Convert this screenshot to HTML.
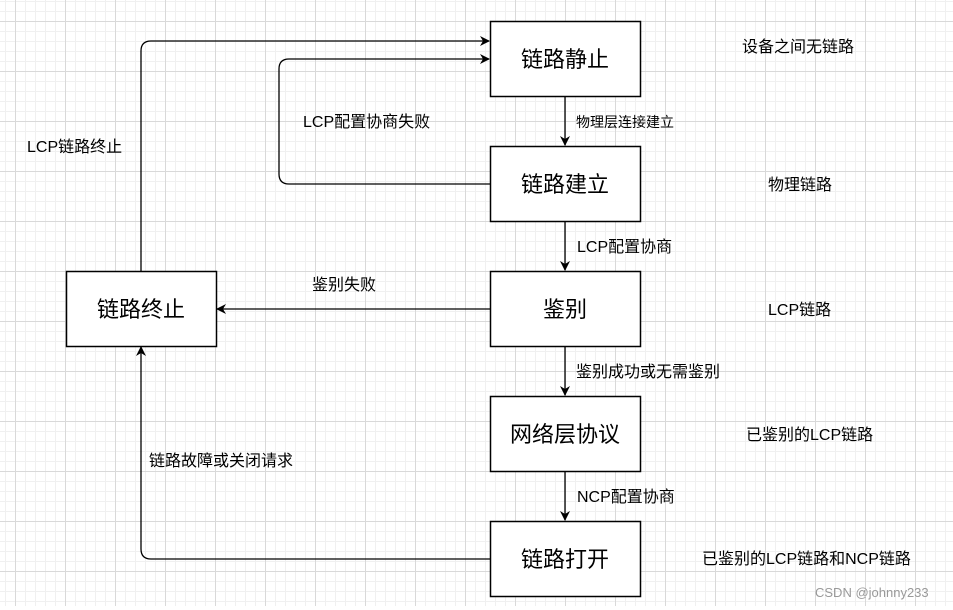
<!DOCTYPE html>
<html><head><meta charset="utf-8"><style>
body{margin:0;width:953px;height:610px;overflow:hidden;background:#fff;font-family:"Liberation Sans","Noto Sans CJK SC",sans-serif}
.g{position:absolute;left:0;top:0;width:953px;height:606px;
background-image:linear-gradient(#d9d9d9 1px,transparent 1px),linear-gradient(90deg,#d9d9d9 1px,transparent 1px),linear-gradient(#f0f0f0 1px,transparent 1px),linear-gradient(90deg,#f0f0f0 1px,transparent 1px);
background-size:50px 50px,50px 50px,10px 10px,10px 10px;background-position:0 21px,15px 0,0 1px,5px 0}
svg{position:absolute;left:0;top:0}
</style></head><body>
<div class="g"></div>
<svg width="953" height="610" font-family="Liberation Sans, Noto Sans CJK SC, sans-serif">
<defs><marker id="a" markerWidth="10" markerHeight="10" refX="9" refY="5" orient="auto" markerUnits="userSpaceOnUse"><path d="M0,0 L10,5 L0,10 L3,5z" fill="#000"/></marker></defs>
<g fill="#fff" stroke="#000" stroke-width="1.5">
<rect x="490.5" y="21.5" width="150" height="75"/>
<rect x="490.5" y="146.5" width="150" height="75"/>
<rect x="490.5" y="271.5" width="150" height="75"/>
<rect x="490.5" y="396.5" width="150" height="75"/>
<rect x="490.5" y="521.5" width="150" height="75"/>
<rect x="66.5" y="271.5" width="150" height="75"/>
</g>
<g fill="none" stroke="#000" stroke-width="1.3" marker-end="url(#a)">
<path d="M141 271 V51 Q141 41 151 41 H489"/>
<path d="M490 184 H289 Q279 184 279 174 V69 Q279 59 289 59 H489"/>
<path d="M565 97 V145"/>
<path d="M565 222 V270"/>
<path d="M565 347 V395"/>
<path d="M565 472 V520"/>
<path d="M490 309 H217"/>
<path d="M490 559 H151 Q141 559 141 549 V347"/>
</g>
<g font-size="22" text-anchor="middle" fill="#000">
<text x="565" y="67">链路静止</text>
<text x="565" y="192">链路建立</text>
<text x="565" y="317">鉴别</text>
<text x="565" y="442">网络层协议</text>
<text x="565" y="567">链路打开</text>
<text x="141" y="317">链路终止</text>
</g>
<g font-size="16" fill="#000">
<text x="742" y="52">设备之间无链路</text>
<text x="768" y="190">物理链路</text>
<text x="768" y="315">LCP链路</text>
<text x="746" y="440">已鉴别的LCP链路</text>
<text x="702" y="564">已鉴别的LCP链路和NCP链路</text>
<text x="27" y="152">LCP链路终止</text>
<text x="303" y="127">LCP配置协商失败</text>
<text x="312" y="290">鉴别失败</text>
<text x="149" y="466">链路故障或关闭请求</text>
<text x="577" y="252">LCP配置协商</text>
<text x="577" y="502">NCP配置协商</text>
<text x="576" y="377">鉴别成功或无需鉴别</text>
</g>
<text x="576" y="127" font-size="14">物理层连接建立</text>
<text x="815" y="597" font-size="13" fill="#999">CSDN @johnny233</text>
</svg>
</body></html>
